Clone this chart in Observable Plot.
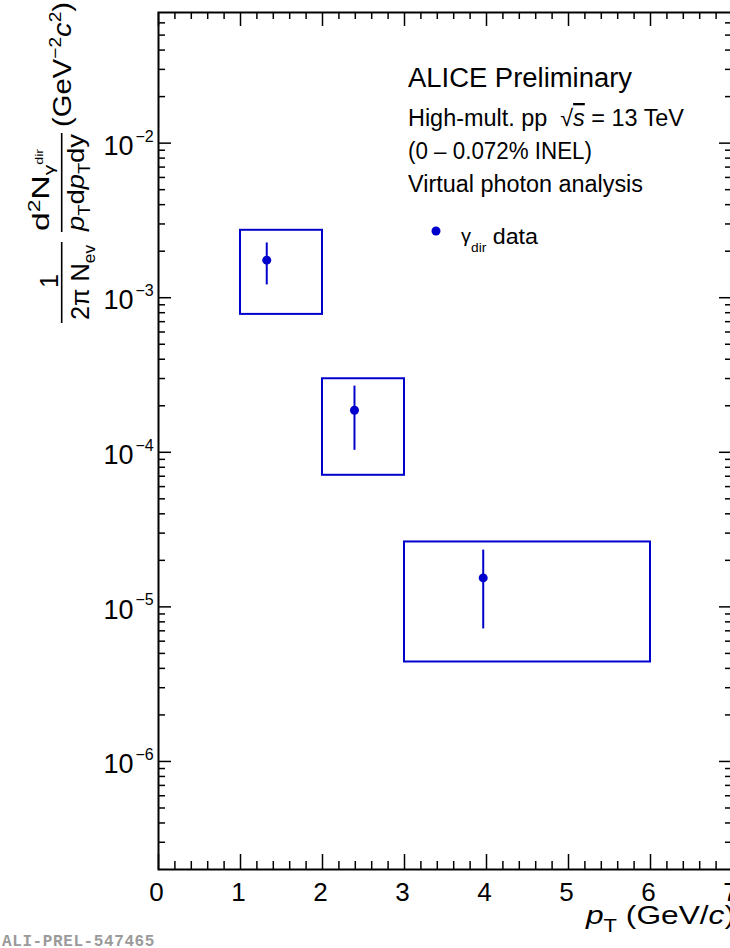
<!DOCTYPE html>
<html>
<head>
<meta charset="utf-8">
<script src="https://cdn.jsdelivr.net/npm/d3@7"></script>
<script src="https://cdn.jsdelivr.net/npm/@observablehq/plot@0.6"></script>
<style>
  html, body { margin: 0; padding: 0; background: #fff; overflow: hidden; }
  #chart { width: 730px; height: 948px; overflow: hidden; position: relative; }
  #chart svg { max-width: none !important; display: block; }
</style>
</head>
<body>
<div id="chart"></div>
<script>
// Direct-photon invariant yield, high-multiplicity pp at 13 TeV (virtual photon analysis)
const ptCenter = [1.32, 2.39, 3.96];          // GeV/c
const yieldVal = [1.75e-3, 1.87e-4, 1.54e-5];
const statLow  = [1.21e-3, 1.03e-4, 7.2e-6];
const statHigh = [2.26e-3, 2.68e-4, 2.33e-5];
const binLow   = [1, 2, 3];
const binHigh  = [2, 3, 6];
const sysLow   = [7.8e-4, 7.1e-5, 4.4e-6];
const sysHigh  = [2.73e-3, 2.99e-4, 2.63e-5];

// axis ticks and labels
const xMajor = [0, 1, 2, 3, 4, 5, 6, 7];
const xMinor = d3.range(1, 35).filter(i => i % 5 !== 0).map(i => i / 5);
const yMajor = [1e-6, 1e-5, 1e-4, 1e-3, 1e-2];
const yExp   = ["\u22126", "\u22125", "\u22124", "\u22123", "\u22122"];
const yDomain = [2e-7, 0.07];
const yMinor = [];
for (let e = -7; e <= -2; e++) for (let k = 2; k <= 9; k++) {
  const v = k * Math.pow(10, e);
  if (v > yDomain[0] * 1.001 && v < yDomain[1] * 0.999) yMinor.push(v);
}

const BLUE = "#0000cc";
const FONT = "'Liberation Sans', Arial, Helvetica, sans-serif";

const W = 734, H = 948;
const mL = 158, mR = 2, mT = 12, mB = 79;
const plotW = W - mL - mR, plotH = H - mT - mB;
const idx = ptCenter.map((_, i) => i);

const plot = Plot.plot({
  width: W, height: H,
  marginLeft: mL, marginRight: mR, marginTop: mT, marginBottom: mB,
  style: { fontFamily: FONT, background: "white", maxWidth: "none", overflow: "visible" },
  x: { domain: [0, 7], axis: null },
  y: { type: "log", domain: yDomain, axis: null },
  marks: [
    // ticks on all four sides, pointing inwards
    Plot.ruleX(xMajor, { x: d => d, insetTop: plotH - 15, stroke: "black", strokeWidth: 1.5 }),
    Plot.ruleX(xMinor, { x: d => d, insetTop: plotH - 8, stroke: "black", strokeWidth: 1.5 }),
    Plot.ruleX(xMajor, { x: d => d, insetBottom: plotH - 14, stroke: "black", strokeWidth: 1.5 }),
    Plot.ruleX(xMinor, { x: d => d, insetBottom: plotH - 7, stroke: "black", strokeWidth: 1.5 }),
    Plot.ruleY(yMajor, { y: d => d, insetRight: plotW - 13, stroke: "black", strokeWidth: 1.5 }),
    Plot.ruleY(yMinor, { y: d => d, insetRight: plotW - 7, stroke: "black", strokeWidth: 1.5 }),
    Plot.ruleY(yMajor, { y: d => d, insetLeft: plotW - 13, stroke: "black", strokeWidth: 1.5 }),
    Plot.ruleY(yMinor, { y: d => d, insetLeft: plotW - 7, stroke: "black", strokeWidth: 1.5 }),
    Plot.frame({ stroke: "black", strokeWidth: 2 }),
    // tick labels
    Plot.text(xMajor, { x: d => d, text: d => String(d), frameAnchor: "bottom", lineAnchor: "top", dx: -2, dy: 13, fontSize: 26 }),
    Plot.text(yMajor, { y: d => d, text: () => "10", frameAnchor: "left", textAnchor: "end", dx: -25, dy: 3, fontSize: 27 }),
    Plot.text(yMajor, { y: d => d, text: (d, i) => yExp[i], frameAnchor: "left", textAnchor: "start", dx: -23, dy: -6.5, fontSize: 16 }),
    // systematic boxes, statistical bars, points
    Plot.rect(idx, { x1: i => binLow[i], x2: i => binHigh[i], y1: i => sysLow[i], y2: i => sysHigh[i],
                     fill: "none", stroke: BLUE, strokeWidth: 2 }),
    Plot.ruleX(idx, { x: i => ptCenter[i], y1: i => statLow[i], y2: i => statHigh[i], stroke: BLUE, strokeWidth: 2 }),
    Plot.dot(idx, { x: i => ptCenter[i], y: i => yieldVal[i], r: 4.5, fill: BLUE, stroke: "none" })
  ]
});

document.getElementById("chart").appendChild(plot);

// ---- rich text helper: parts carry an absolute baseline shift "b"
function rich(g, x, y, parts, { anchor = "start", size = 23, fill = "black", family = FONT, weight = null, length = null } = {}) {
  const t = g.append("text").attr("x", x).attr("y", y).attr("text-anchor", anchor)
    .attr("font-family", family).attr("font-size", size).attr("fill", fill);
  if (weight) t.attr("font-weight", weight);
  if (length) t.attr("textLength", length).attr("lengthAdjust", "spacingAndGlyphs");
  let cur = 0;
  for (const p of parts) {
    const s = t.append("tspan").text(p.t);
    if (p.size) s.attr("font-size", p.size);
    if (p.italic) s.attr("font-style", "italic");
    const b = p.b || 0;
    if (b !== cur) { s.attr("dy", b - cur); cur = b; }
    if (p.dx) s.attr("dx", p.dx);
    if (p.over) s.style("text-decoration", "overline");
  }
  return t;
}

const svg = d3.select(plot);
const ann = svg.append("g");

// header text
rich(ann, 408, 87, [{ t: "ALICE Preliminary" }], { size: 27, length: 224 });
rich(ann, 408, 126, [
  { t: "High-mult. pp  " },
  { t: "\u221A" },
  { t: "s", italic: true, over: true },
  { t: " = 13 TeV" }
], { size: 23, length: 276 });
rich(ann, 408, 159, [{ t: "(0 \u2013 0.072% INEL)" }], { size: 23, length: 184 });
rich(ann, 408, 192, [{ t: "Virtual photon analysis" }], { size: 23, length: 235 });

// legend entry
ann.append("circle").attr("cx", 436).attr("cy", 231).attr("r", 4.5).attr("fill", BLUE);
rich(ann, 461, 242, [
  { t: "\u03B3", size: 19 },
  { t: "dir", size: 13, b: 10 },
  { t: " data", size: 22, b: 2 }
], { size: 19, length: 77 });

// x-axis title
rich(ann, 735, 924, [
  { t: "p", italic: true },
  { t: "T", size: 18, b: 8 },
  { t: " (GeV/", b: 0 },
  { t: "c", italic: true },
  { t: ")" }
], { anchor: "end", size: 26, length: 149 });

// y-axis title, rotated; local x = -screen y, local y = screen x - 61.7
const yt = ann.append("g").attr("transform", "translate(61.7,0) rotate(-90)");
const bar = (a, b) => yt.append("line").attr("x1", -a).attr("x2", -b).attr("y1", 0).attr("y2", 0)
  .attr("stroke", "black").attr("stroke-width", 1.6);
bar(323, 242);
bar(232, 133);
rich(yt, -281, -4, [{ t: "1" }], { anchor: "middle", size: 25 });
rich(yt, -282.5, 27, [
  { t: "2\u03C0 " },
  { t: "N" },
  { t: "ev", size: 17, b: 6 }
], { anchor: "middle", size: 25, length: 75 });
rich(yt, -190, -13, [
  { t: "d" },
  { t: "2", size: 16, b: -9 },
  { t: "N", b: 0 },
  { t: "\u03B3", size: 15, b: 5 },
  { t: "dir", size: 10, b: -6 }
], { anchor: "middle", size: 24, length: 82 });
rich(yt, -182.5, 22, [
  { t: "p", italic: true },
  { t: "T", size: 16, b: 6 },
  { t: "d", b: 0 },
  { t: "p", italic: true },
  { t: "T", size: 16, b: 6 },
  { t: "dy", b: 0 }
], { anchor: "middle", size: 24, length: 97 });
rich(yt, -2, 9, [
  { t: "(GeV" },
  { t: "\u22122", size: 17, b: -10 },
  { t: "c", italic: true, b: 0 },
  { t: "2", size: 17, b: -10 },
  { t: ")", b: 0 }
], { anchor: "end", size: 26, length: 125 });

// preliminary label
rich(ann, 2, 946, [{ t: "ALI-PREL-547465" }],
  { size: 16, fill: "#9a9a9a", family: "'Liberation Mono', 'DejaVu Sans Mono', monospace", weight: "bold" })
  .attr("letter-spacing", 0.6);
</script>
</body>
</html>
